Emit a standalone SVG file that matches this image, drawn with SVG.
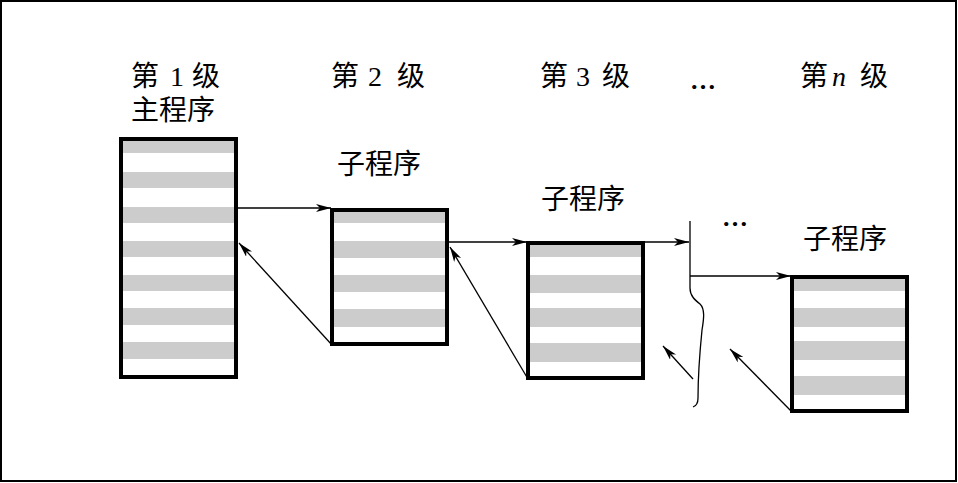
<svg xmlns="http://www.w3.org/2000/svg" width="958" height="483" viewBox="0 0 958 483">
  <style>
    .t { font-family: "Liberation Serif", "Noto Sans CJK SC", serif; font-size: 28px; fill: #000; }
    .box { fill: #fff; stroke: #000; stroke-width: 4; }
    .stripe { fill: #cccccc; }
    .line { fill: none; stroke: #000; stroke-width: 1.3; }
    .dots { font-family: "Liberation Serif", serif; font-size: 26px; font-weight: bold; fill: #000; }
  </style>
  <defs>
    <marker id="arr" markerUnits="userSpaceOnUse" markerWidth="16" markerHeight="10" refX="15" refY="4" orient="auto">
      <path d="M0,0 L15,4 L0,8 L4,4 z" fill="#000"/>
    </marker>
  </defs>
  <rect x="1" y="1" width="955" height="480" fill="#fff" stroke="#000" stroke-width="2"/>

  <g id="level-labels">
    <text class="t" y="86"><tspan x="131">第</tspan><tspan x="170">1</tspan><tspan x="192">级</tspan></text>
    <text class="t" y="86"><tspan x="331">第</tspan><tspan x="368">2</tspan><tspan x="397">级</tspan></text>
    <text class="t" y="86"><tspan x="540">第</tspan><tspan x="576">3</tspan><tspan x="602">级</tspan></text>
    <text class="dots" x="690" y="89">…</text>
    <text class="t" y="86"><tspan x="800">第</tspan><tspan x="832" font-style="italic">n</tspan><tspan x="860">级</tspan></text>
  </g>

  <g id="node-main">
    <text class="t" x="131" y="120">主程序</text>
    <rect class="box" x="121" y="139" width="115" height="238"/>
    <rect class="stripe" x="123" y="141" width="111" height="12"/>
    <rect class="stripe" x="123" y="172" width="111" height="16"/>
    <rect class="stripe" x="123" y="207" width="111" height="16"/>
    <rect class="stripe" x="123" y="241" width="111" height="16"/>
    <rect class="stripe" x="123" y="275" width="111" height="16"/>
    <rect class="stripe" x="123" y="308" width="111" height="17"/>
    <rect class="stripe" x="123" y="342" width="111" height="17"/>
  </g>

  <g id="node-sub2">
    <text class="t" x="337" y="174">子程序</text>
    <rect class="box" x="332" y="210" width="115" height="134"/>
    <rect class="stripe" x="334" y="212" width="111" height="11"/>
    <rect class="stripe" x="334" y="241" width="111" height="17"/>
    <rect class="stripe" x="334" y="275" width="111" height="17"/>
    <rect class="stripe" x="334" y="309" width="111" height="18"/>
  </g>

  <g id="node-sub3">
    <text class="t" x="541" y="209">子程序</text>
    <rect class="box" x="528" y="243" width="115" height="135"/>
    <rect class="stripe" x="530" y="245" width="111" height="12"/>
    <rect class="stripe" x="530" y="275" width="111" height="18"/>
    <rect class="stripe" x="530" y="308" width="111" height="19"/>
    <rect class="stripe" x="530" y="343" width="111" height="19"/>
  </g>

  <text class="dots" x="722" y="226">…</text>

  <g id="node-subn">
    <text class="t" x="803" y="249">子程序</text>
    <rect class="box" x="792" y="277" width="115" height="134"/>
    <rect class="stripe" x="794" y="279" width="111" height="12"/>
    <rect class="stripe" x="794" y="308" width="111" height="19"/>
    <rect class="stripe" x="794" y="341" width="111" height="19"/>
    <rect class="stripe" x="794" y="376" width="111" height="19"/>
  </g>

  <g id="connectors">
    <line class="line" x1="238" y1="208" x2="331" y2="208" marker-end="url(#arr)"/>
    <line class="line" x1="332" y1="345" x2="239" y2="243" marker-end="url(#arr)"/>
    <line class="line" x1="449" y1="242" x2="527" y2="242" marker-end="url(#arr)"/>
    <line class="line" x1="528" y1="379" x2="450" y2="247" marker-end="url(#arr)"/>
    <line class="line" x1="645" y1="242" x2="689" y2="242" marker-end="url(#arr)"/>
    <path class="line" d="M690,221 L690,288 C690,296 695,300 700,304 C705,309 704,318 702,330 C700,350 698,380 698,398 C698,404 696,406 693,407"/>
    <line class="line" x1="690" y1="276" x2="791" y2="276" marker-end="url(#arr)"/>
    <line class="line" x1="693" y1="379" x2="663" y2="346" marker-end="url(#arr)"/>
    <line class="line" x1="792" y1="412" x2="730" y2="349" marker-end="url(#arr)"/>
  </g>
</svg>
